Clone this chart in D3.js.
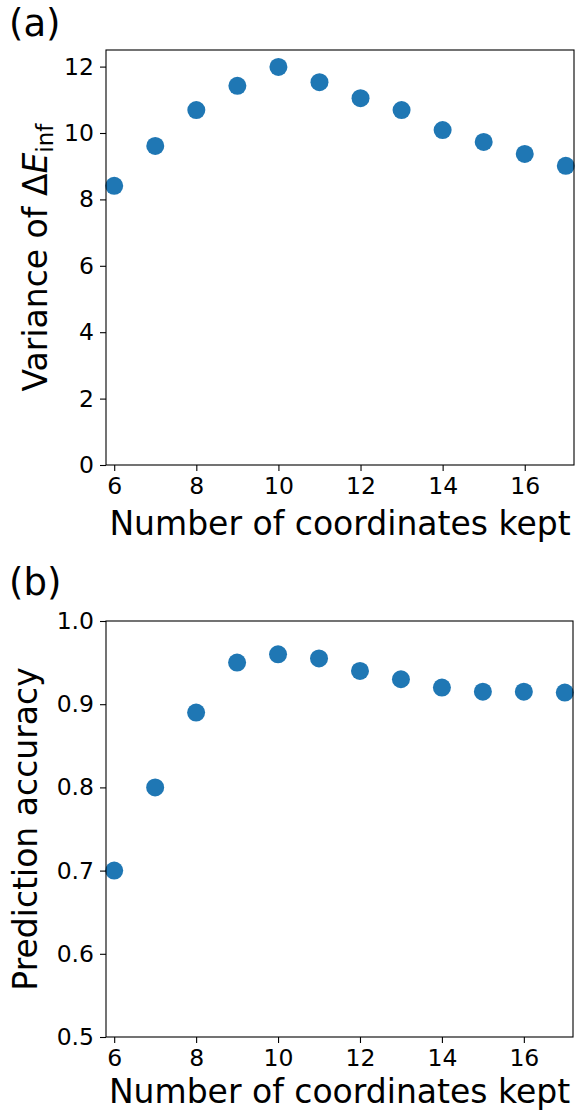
<!DOCTYPE html>
<html><head><meta charset="utf-8">
<script src="https://cdn.jsdelivr.net/npm/d3@7"></script>
<style>
body{margin:0;background:#fff;}
svg{display:block;font-family:"DejaVu Sans",sans-serif;}
</style></head>
<body>
<svg id="c" width="577" height="1112"></svg>
<script>
const coords = [6,7,8,9,10,11,12,13,14,15,16,17];
const variance = [8.41,9.61,10.69,11.42,11.99,11.53,11.05,10.69,10.09,9.73,9.37,9.01];
const accuracy = [0.70,0.80,0.89,0.95,0.96,0.955,0.94,0.93,0.92,0.915,0.915,0.914];
const xTicks = [6,8,10,12,14,16];
const yTicksA = [0,2,4,6,8,10,12];
const yTicksB = [0.5,0.6,0.7,0.8,0.9,1.0];

const svg = d3.select("#c");
const color = "#1f77b4";

function panel(opts){
  const {left,right,top,bottom,ydom,yticks,yfmt,vals,label,labelY,ylabelX,xlabelY,ylabelFn} = opts;
  const x = d3.scaleLinear().domain([5.8,17.2]).range([left,right]);
  const y = d3.scaleLinear().domain(ydom).range([bottom,top]);
  const g = svg.append("g");
  g.selectAll("circle").data(coords).join("circle")
    .attr("cx",d=>x(d)).attr("cy",(d,i)=>y(vals[i])).attr("r",9).attr("fill",color);
  const xa = g.append("g").attr("transform",`translate(0,${bottom})`)
    .call(d3.axisBottom(x).tickValues(xTicks).tickSize(6).tickPadding(6).tickFormat(d3.format("d")));
  const ya = g.append("g").attr("transform",`translate(${left},0)`)
    .call(d3.axisLeft(y).tickValues(yticks).tickSize(6).tickPadding(6).tickFormat(yfmt));
  [xa,ya].forEach(a=>{
    a.select(".domain").remove();
    a.selectAll("line").attr("stroke","#000").attr("stroke-width",1.1);
    a.selectAll("text").attr("font-size",23.5).attr("fill","#000").attr("font-family","DejaVu Sans");
  });
  xa.selectAll("text").attr("dy","0.73em");
  g.append("rect").attr("x",left).attr("y",top).attr("width",right-left).attr("height",bottom-top)
    .attr("fill","none").attr("stroke","#000").attr("stroke-width",1.1);
  g.append("text").attr("x",(left+right)/2).attr("y",xlabelY).attr("text-anchor","middle")
    .attr("font-size",33).text("Number of coordinates kept");
  const yl = g.append("text").attr("transform",`translate(${ylabelX},${(top+bottom)/2}) rotate(-90)`)
    .attr("text-anchor","middle").attr("font-size",33);
  ylabelFn(yl);
  svg.append("text").attr("x",9).attr("y",labelY).attr("font-size",37).text(label);
}

panel({left:106,right:574,top:50,bottom:465,ydom:[0,12.5],yticks:yTicksA,yfmt:d3.format("d"),
  vals:variance,label:"(a)",labelY:36,ylabelX:47,xlabelY:535,
  ylabelFn:t=>{
    t.append("tspan").text("Variance of \u0394");
    t.append("tspan").attr("font-style","italic").text("E");
    t.append("tspan").attr("font-size",23).attr("dy",6).text("inf");
  }});
panel({left:106,right:573,top:621,bottom:1037,ydom:[0.5,1.0],yticks:yTicksB,yfmt:d3.format(".1f"),
  vals:accuracy,label:"(b)",labelY:595,ylabelX:37,xlabelY:1103,
  ylabelFn:t=>{ t.text("Prediction accuracy"); }});
</script>
</body></html>
